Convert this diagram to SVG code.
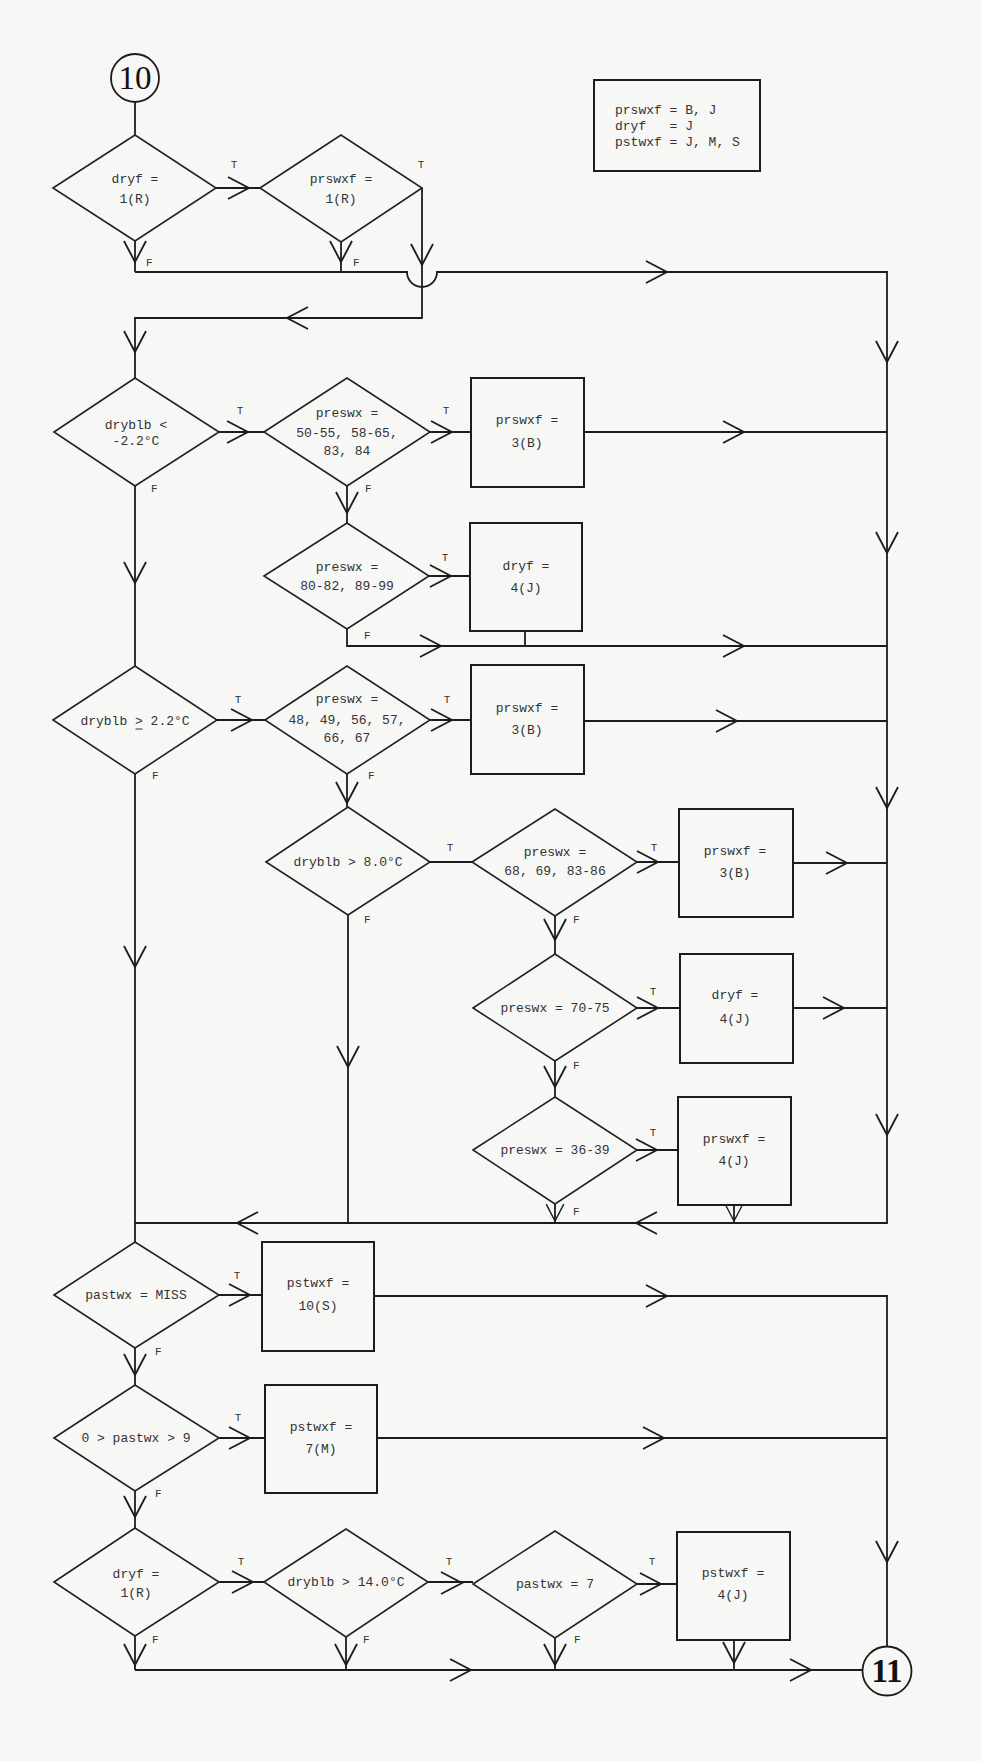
<svg xmlns="http://www.w3.org/2000/svg" xmlns:xlink="http://www.w3.org/1999/xlink" width="982" height="1761" viewBox="0 0 982 1761">
<style>
.ln{fill:none;stroke:#1c1c1c;stroke-width:1.8}
.dm{fill:none;stroke:#222;stroke-width:1.6}
.bx{fill:none;stroke:#1c1c1c;stroke-width:2}
.ci{fill:none;stroke:#1c1c1c;stroke-width:1.8}
.tx{font-family:"Liberation Mono","DejaVu Sans Mono",monospace;font-size:13px;fill:#333;text-anchor:middle}
.lg{font-family:"Liberation Mono","DejaVu Sans Mono",monospace;font-size:13px;fill:#333;white-space:pre}
.lb{font-family:"Liberation Mono","DejaVu Sans Mono",monospace;font-size:11px;fill:#333}
.lt{text-anchor:middle}
.num{font-family:"Liberation Serif","DejaVu Serif",serif;font-size:33px;fill:#111;text-anchor:middle}
</style>
<defs>
<path id="ah" d="M-21,-11 L0,0 L-21,11" fill="none" stroke="#1c1c1c" stroke-width="1.8"/>
</defs>
<rect x="0" y="0" width="982" height="1761" fill="#f7f7f5"/>

<g id="connectors">
<path class="ln" d="M135,102 V135"/>
<path class="ln" d="M216,188 H260"/>
<path class="ln" d="M135,241 V272"/>
<path class="ln" d="M341,242 V272"/>
<path class="ln" d="M135,272 H407 A15,15 0 0 0 437,272 H887 V1223 H135"/>
<path class="ln" d="M422,188 V318 H135 V378"/>
<path class="ln" d="M219,432 H264"/>
<path class="ln" d="M430,432 H471"/>
<path class="ln" d="M584,432 H887"/>
<path class="ln" d="M347,486 V523"/>
<path class="ln" d="M135,486 V666"/>
<path class="ln" d="M429,576 H470"/>
<path class="ln" d="M347,629 V646 H887"/>
<path class="ln" d="M525,631 V646"/>
<path class="ln" d="M217,720 H265"/>
<path class="ln" d="M430,720 H471"/>
<path class="ln" d="M584,721 H887"/>
<path class="ln" d="M347,774 V807"/>
<path class="ln" d="M135,774 V1242"/>
<path class="ln" d="M430,862 H472"/>
<path class="ln" d="M637,862 H679"/>
<path class="ln" d="M793,863 H887"/>
<path class="ln" d="M555,916 V954"/>
<path class="ln" d="M348,915 V1223"/>
<path class="ln" d="M637,1008 H680"/>
<path class="ln" d="M793,1008 H887"/>
<path class="ln" d="M555,1061 V1097"/>
<path class="ln" d="M637,1150 H678"/>
<path class="ln" d="M555,1204 V1223"/>
<path class="ln" d="M734,1205 V1223"/>
<path class="ln" d="M219,1295 H262"/>
<path class="ln" d="M374,1296 H887 V1647"/>
<path class="ln" d="M135,1348 V1385"/>
<path class="ln" d="M219,1438 H265"/>
<path class="ln" d="M377,1438 H887"/>
<path class="ln" d="M135,1491 V1528"/>
<path class="ln" d="M219,1582 H264"/>
<path class="ln" d="M428,1582 H473"/>
<path class="ln" d="M637,1584 H677"/>
<path class="ln" d="M135,1636 V1670"/>
<path class="ln" d="M346,1637 V1670"/>
<path class="ln" d="M555,1638 V1670"/>
<path class="ln" d="M734,1640 V1670"/>
<path class="ln" d="M135,1670 H863" stroke-width="2.2"/>

<g id="arrowheads">
<use xlink:href="#ah" transform="translate(249,188)"/>
<use xlink:href="#ah" transform="translate(135,262) rotate(90)"/>
<use xlink:href="#ah" transform="translate(341,262) rotate(90)"/>
<use xlink:href="#ah" transform="translate(422,265) rotate(90)"/>
<use xlink:href="#ah" transform="translate(667,272)"/>
<use xlink:href="#ah" transform="translate(287,318) rotate(180)"/>
<use xlink:href="#ah" transform="translate(135,352) rotate(90)"/>
<use xlink:href="#ah" transform="translate(887,362) rotate(90)"/>
<use xlink:href="#ah" transform="translate(887,553) rotate(90)"/>
<use xlink:href="#ah" transform="translate(887,808) rotate(90)"/>
<use xlink:href="#ah" transform="translate(887,1135) rotate(90)"/>
<use xlink:href="#ah" transform="translate(636,1223) rotate(180)"/>
<use xlink:href="#ah" transform="translate(237,1223) rotate(180)"/>
<use xlink:href="#ah" transform="translate(248,432)"/>
<use xlink:href="#ah" transform="translate(452,432)"/>
<use xlink:href="#ah" transform="translate(744,432)"/>
<use xlink:href="#ah" transform="translate(347,513) rotate(90)"/>
<use xlink:href="#ah" transform="translate(135,583) rotate(90)"/>
<use xlink:href="#ah" transform="translate(451,576)"/>
<use xlink:href="#ah" transform="translate(441,646)"/>
<use xlink:href="#ah" transform="translate(744,646)"/>
<use xlink:href="#ah" transform="translate(252,720)"/>
<use xlink:href="#ah" transform="translate(452,720)"/>
<use xlink:href="#ah" transform="translate(737,721)"/>
<use xlink:href="#ah" transform="translate(347,803) rotate(90)"/>
<use xlink:href="#ah" transform="translate(135,967) rotate(90)"/>
<use xlink:href="#ah" transform="translate(658,862)"/>
<use xlink:href="#ah" transform="translate(847,863)"/>
<use xlink:href="#ah" transform="translate(555,940) rotate(90)"/>
<use xlink:href="#ah" transform="translate(348,1067) rotate(90)"/>
<use xlink:href="#ah" transform="translate(658,1008)"/>
<use xlink:href="#ah" transform="translate(844,1008)"/>
<use xlink:href="#ah" transform="translate(555,1087) rotate(90)"/>
<use xlink:href="#ah" transform="translate(657,1150)"/>
<use xlink:href="#ah" transform="translate(555,1221) rotate(90) scale(0.8)"/>
<use xlink:href="#ah" transform="translate(734,1221) rotate(90) scale(0.75)"/>
<use xlink:href="#ah" transform="translate(250,1295)"/>
<use xlink:href="#ah" transform="translate(667,1296)"/>
<use xlink:href="#ah" transform="translate(887,1562) rotate(90)"/>
<use xlink:href="#ah" transform="translate(135,1375) rotate(90)"/>
<use xlink:href="#ah" transform="translate(250,1438)"/>
<use xlink:href="#ah" transform="translate(664,1438)"/>
<use xlink:href="#ah" transform="translate(135,1517) rotate(90)"/>
<use xlink:href="#ah" transform="translate(253,1582)"/>
<use xlink:href="#ah" transform="translate(462,1583)"/>
<use xlink:href="#ah" transform="translate(661,1584)"/>
<use xlink:href="#ah" transform="translate(135,1665) rotate(90)"/>
<use xlink:href="#ah" transform="translate(346,1665) rotate(90)"/>
<use xlink:href="#ah" transform="translate(555,1665) rotate(90)"/>
<use xlink:href="#ah" transform="translate(734,1663) rotate(90)"/>
<use xlink:href="#ah" transform="translate(471,1670)"/>
<use xlink:href="#ah" transform="translate(811,1670)"/>
</g>

<g id="edge-labels">
<text class="lb lt" x="234" y="168">T</text>
<text class="lb lt" x="421" y="168">T</text>
<text class="lb" x="146" y="266">F</text>
<text class="lb" x="353" y="266">F</text>
<text class="lb lt" x="240" y="414">T</text>
<text class="lb lt" x="446" y="414">T</text>
<text class="lb" x="151" y="492">F</text>
<text class="lb" x="365" y="492">F</text>
<text class="lb lt" x="445" y="561">T</text>
<text class="lb" x="364" y="639">F</text>
<text class="lb lt" x="238" y="703">T</text>
<text class="lb lt" x="447" y="703">T</text>
<text class="lb" x="152" y="779">F</text>
<text class="lb" x="368" y="779">F</text>
<text class="lb lt" x="450" y="851">T</text>
<text class="lb lt" x="654" y="851">T</text>
<text class="lb" x="364" y="923">F</text>
<text class="lb" x="573" y="923">F</text>
<text class="lb lt" x="653" y="995">T</text>
<text class="lb" x="573" y="1069">F</text>
<text class="lb lt" x="653" y="1136">T</text>
<text class="lb" x="573" y="1215">F</text>
<text class="lb lt" x="237" y="1279">T</text>
<text class="lb" x="155" y="1355">F</text>
<text class="lb lt" x="238" y="1421">T</text>
<text class="lb" x="155" y="1497">F</text>
<text class="lb lt" x="241" y="1565">T</text>
<text class="lb lt" x="449" y="1565">T</text>
<text class="lb lt" x="652" y="1565">T</text>
<text class="lb" x="152" y="1643">F</text>
<text class="lb" x="363" y="1643">F</text>
<text class="lb" x="574" y="1643">F</text>
</g>
</g>

<g id="c10"><circle class="ci" cx="135" cy="78" r="24"/><text class="num" x="135" y="89">10</text></g>
<g id="c11"><circle class="ci" cx="887" cy="1671" r="24.5" stroke-width="2.2"/><text class="num" x="887" y="1682" font-weight="bold">11</text></g>

<g id="legend"><rect class="bx" x="594" y="80" width="166" height="91"/>
<text class="lg" x="615" y="114" xml:space="preserve">prswxf = B, J</text>
<text class="lg" x="615" y="130" xml:space="preserve">dryf   = J</text>
<text class="lg" x="615" y="146" xml:space="preserve">pstwxf = J, M, S</text></g>

<g id="d1"><polygon class="dm" points="53,188 135,135 216,188 135,241"/><text class="tx" x="135" y="183">dryf =</text><text class="tx" x="135" y="203">1(R)</text></g>
<g id="d2"><polygon class="dm" points="260,188 341,135 422,188 341,242"/><text class="tx" x="341" y="183">prswxf =</text><text class="tx" x="341" y="203">1(R)</text></g>
<g id="d3"><polygon class="dm" points="54,432 135,378 219,432 135,486"/><text class="tx" x="136" y="429">dryblb &lt;</text><text class="tx" x="136" y="445">-2.2°C</text></g>
<g id="d4"><polygon class="dm" points="264,432 347,378 430,432 347,486"/><text class="tx" x="347" y="417">preswx =</text><text class="tx" x="347" y="437">50-55, 58-65,</text><text class="tx" x="347" y="455">83, 84</text></g>
<g id="b1"><rect class="bx" x="471" y="378" width="113" height="109"/><text class="tx" x="527" y="424">prswxf =</text><text class="tx" x="527" y="447">3(B)</text></g>
<g id="d5"><polygon class="dm" points="264,576 347,523 429,576 347,629"/><text class="tx" x="347" y="571">preswx =</text><text class="tx" x="347" y="590">80-82, 89-99</text></g>
<g id="b2"><rect class="bx" x="470" y="523" width="112" height="108"/><text class="tx" x="526" y="570">dryf =</text><text class="tx" x="526" y="592">4(J)</text></g>
<g id="d6"><polygon class="dm" points="53,720 135,666 217,720 135,774"/><text class="tx" x="135" y="725">dryblb &gt; 2.2°C</text><line x1="135.5" y1="729" x2="142.5" y2="729" stroke="#333" stroke-width="1"/></g>
<g id="d7"><polygon class="dm" points="265,720 347,666 430,720 347,774"/><text class="tx" x="347" y="703">preswx =</text><text class="tx" x="347" y="724">48, 49, 56, 57,</text><text class="tx" x="347" y="742">66, 67</text></g>
<g id="b3"><rect class="bx" x="471" y="665" width="113" height="109"/><text class="tx" x="527" y="712">prswxf =</text><text class="tx" x="527" y="734">3(B)</text></g>
<g id="d8"><polygon class="dm" points="266,862 348,807 430,862 348,915"/><text class="tx" x="348" y="866">dryblb &gt; 8.0°C</text></g>
<g id="d9"><polygon class="dm" points="472,862 555,809 637,862 555,916"/><text class="tx" x="555" y="856">preswx =</text><text class="tx" x="555" y="875">68, 69, 83-86</text></g>
<g id="b4"><rect class="bx" x="679" y="809" width="114" height="108"/><text class="tx" x="735" y="855">prswxf =</text><text class="tx" x="735" y="877">3(B)</text></g>
<g id="d10"><polygon class="dm" points="473,1008 555,954 637,1008 555,1061"/><text class="tx" x="555" y="1012">preswx = 70-75</text></g>
<g id="b5"><rect class="bx" x="680" y="954" width="113" height="109"/><text class="tx" x="735" y="999">dryf =</text><text class="tx" x="735" y="1023">4(J)</text></g>
<g id="d11"><polygon class="dm" points="473,1150 555,1097 637,1150 555,1204"/><text class="tx" x="555" y="1154">preswx = 36-39</text></g>
<g id="b6"><rect class="bx" x="678" y="1097" width="113" height="108"/><text class="tx" x="734" y="1143">prswxf =</text><text class="tx" x="734" y="1165">4(J)</text></g>
<g id="d12"><polygon class="dm" points="54,1295 135,1242 219,1295 135,1348"/><text class="tx" x="136" y="1299">pastwx = MISS</text></g>
<g id="b7"><rect class="bx" x="262" y="1242" width="112" height="109"/><text class="tx" x="318" y="1287">pstwxf =</text><text class="tx" x="318" y="1310">10(S)</text></g>
<g id="d13"><polygon class="dm" points="54,1438 135,1385 219,1438 135,1491"/><text class="tx" x="136" y="1442">0 &gt; pastwx &gt; 9</text></g>
<g id="b8"><rect class="bx" x="265" y="1385" width="112" height="108"/><text class="tx" x="321" y="1431">pstwxf =</text><text class="tx" x="321" y="1453">7(M)</text></g>
<g id="d14"><polygon class="dm" points="54,1582 135,1528 219,1582 135,1636"/><text class="tx" x="136" y="1578">dryf =</text><text class="tx" x="136" y="1597">1(R)</text></g>
<g id="d15"><polygon class="dm" points="264,1582 346,1529 428,1582 346,1637"/><text class="tx" x="346" y="1586">dryblb &gt; 14.0°C</text></g>
<g id="d16"><polygon class="dm" points="473,1584 555,1531 637,1584 555,1638"/><text class="tx" x="555" y="1588">pastwx = 7</text></g>
<g id="b9"><rect class="bx" x="677" y="1532" width="113" height="108"/><text class="tx" x="733" y="1577">pstwxf =</text><text class="tx" x="733" y="1599">4(J)</text></g>
</svg>
